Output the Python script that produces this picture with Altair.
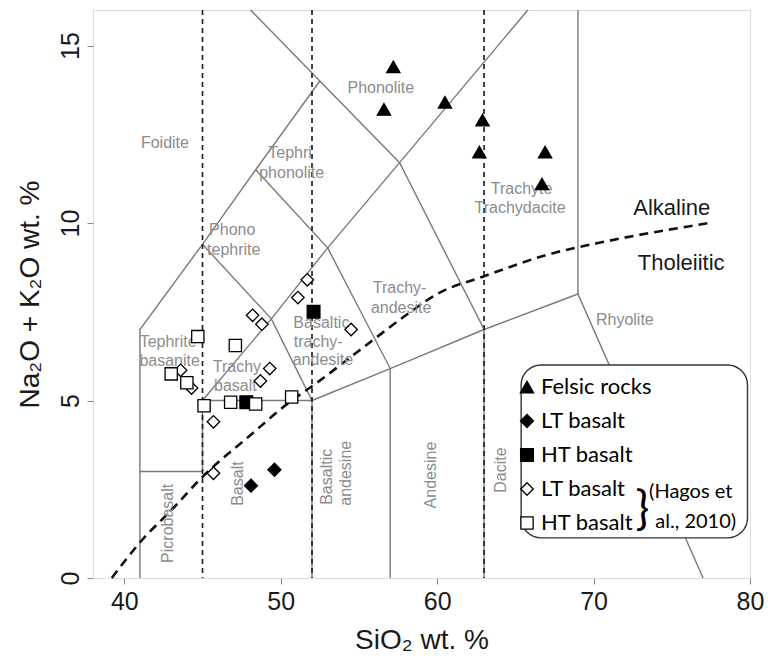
import altair as alt
import pandas as pd

# ---------------------------------------------------------------- data
groups = ["Felsic rocks", "LT basalt", "HT basalt", "LT basalt (Hagos)", "HT basalt (Hagos)"]
group_shapes = ["triangle-up", "diamond", "square", "diamond", "square"]
group_fills = ["black", "black", "black", "white", "white"]
group_strokes = ["black", "black", "black", "black", "black"]
group_sizes = [175, 150, 140, 120, 140]

felsic_sio2 = [57.2, 56.6, 60.5, 62.9, 62.7, 66.9, 66.7]
felsic_alk = [14.4, 13.2, 13.4, 12.9, 12.0, 12.0, 11.1]

lt_sio2 = [49.6, 48.1]
lt_alk = [3.05, 2.6]

ht_sio2 = [52.1, 47.8]
ht_alk = [7.5, 4.95]

hagos_lt_sio2 = [51.1, 51.7, 48.2, 48.8, 54.5, 49.3, 48.7, 43.6, 44.3, 45.7, 45.7]
hagos_lt_alk = [7.9, 8.4, 7.4, 7.15, 7.0, 5.9, 5.55, 5.85, 5.35, 4.4, 2.95]

hagos_ht_sio2 = [44.7, 47.1, 43.0, 44.0, 45.1, 46.8, 48.4, 50.7]
hagos_ht_alk = [6.8, 6.55, 5.75, 5.5, 4.85, 4.95, 4.9, 5.1]

# TAS field boundaries (Le Bas et al., 1986), as polylines of (SiO2, Na2O+K2O)
boundaries = [
    [(41, 0), (41, 7), (45, 9.4), (48.4, 11.5), (52.5, 14)],
    [(41, 3), (45, 3)],
    [(45, 3), (45, 5), (52, 5)],
    [(45, 5), (49.4, 7.3), (53, 9.3), (57.6, 11.7), (65.8, 16)],
    [(45, 9.4), (49.4, 7.3), (52, 5), (57, 5.9), (63, 7), (69, 8), (77, 0)],
    [(48.4, 11.5), (53, 9.3), (57, 5.9), (57, 0)],
    [(48.07, 16), (52.5, 14), (57.6, 11.7), (63, 7), (63, 0)],
    [(52, 5), (52, 0)],
    [(69, 8), (69, 16)],
]

# dashed SiO2 divisions
dashed_sio2 = [45, 52, 63]

# alkaline / tholeiitic divide
divide_sio2 = [39.2, 41.0, 43.2, 45.0, 48.0, 50.7, 52.0, 55.0, 58.0, 60.0, 63.0, 67.0, 71.0, 77.4]
divide_alk = [0.0, 1.0, 2.0, 2.85, 4.0, 5.0, 5.4, 6.4, 7.4, 8.0, 8.5, 9.1, 9.5, 10.0]

# field names
field_text = ["Foidite", "Phonolite", "Tephri", "phonolite", "Phono", "tephrite",
              "Trachyte", "Trachydacite", "Trachy-", "andesite", "Basaltic", "trachy-",
              "andesite", "Tephrite", "basanite", "Trachy", "basalt", "Rhyolite"]
field_x = [42.6, 56.4, 50.6, 50.7, 46.9, 47.0, 65.4, 65.3, 57.6, 57.7, 52.6, 52.4,
           52.7, 42.8, 42.9, 47.2, 47.1, 72.0]
field_y = [12.24, 13.81, 11.98, 11.42, 9.79, 9.23, 10.97, 10.41, 8.16, 7.6, 7.18, 6.65,
           6.13, 6.65, 6.11, 5.93, 5.4, 7.26]

vfield_text = ["Picrobasalt", "Basalt", "Basaltic", "andesine", "Andesine", "Dacite"]
vfield_x = [42.77, 47.3, 52.94, 54.2, 59.6, 64.1]
vfield_y = [1.54, 2.66, 2.85, 2.95, 2.9, 3.04]

series_text = ["Alkaline", "Tholeiitic"]
series_x = [75.0, 75.6]
series_y = [10.41, 8.86]

# legend box and citation
box_x, box_x2, box_y, box_y2 = 65.37, 79.84, 1.13, 6.0
brace_x, brace_y = 73.12, 1.91
cite_text = ["(Hagos et", "al., 2010)"]
cite_x = [73.55, 73.95]
cite_y = [2.42, 1.58]

# ---------------------------------------------------------------- tables
rows = []
for g, xs, ys in [
    (groups[0], felsic_sio2, felsic_alk),
    (groups[1], lt_sio2, lt_alk),
    (groups[2], ht_sio2, ht_alk),
    (groups[3], hagos_lt_sio2, hagos_lt_alk),
    (groups[4], hagos_ht_sio2, hagos_ht_alk),
]:
    rows += [{"group": g, "sio2": x, "alk": y} for x, y in zip(xs, ys)]
points_df = pd.DataFrame(rows)

bound_rows = []
for i, line in enumerate(boundaries):
    for j, (x, y) in enumerate(line):
        bound_rows.append({"seg": i, "ord": j, "sio2": x, "alk": y})
bound_df = pd.DataFrame(bound_rows)

dashed_df = pd.DataFrame({"sio2": dashed_sio2})
divide_df = pd.DataFrame({"sio2": divide_sio2, "alk": divide_alk, "ord": range(len(divide_sio2))})
field_df = pd.DataFrame({"text": field_text, "sio2": field_x, "alk": field_y})
vfield_df = pd.DataFrame({"text": vfield_text, "sio2": vfield_x, "alk": vfield_y})
series_df = pd.DataFrame({"text": series_text, "sio2": series_x, "alk": series_y})
box_df = pd.DataFrame({"x": [box_x], "x2": [box_x2], "y": [box_y], "y2": [box_y2]})
brace_df = pd.DataFrame({"text": ["}"], "sio2": [brace_x], "alk": [brace_y]})
cite_df = pd.DataFrame({"text": cite_text, "sio2": cite_x, "alk": cite_y})

# ---------------------------------------------------------------- scales
AX = "Liberation Sans"
xscale = alt.Scale(domain=[38, 80], nice=False, zero=False)
yscale = alt.Scale(domain=[0, 16], nice=False, zero=False)

x_axis = alt.Axis(values=[40, 50, 60, 70, 80], grid=False, domain=False, tickSize=6,
                  tickColor="#888888", labelFont=AX, labelFontSize=25, labelColor="#1a1a1a",
                  labelPadding=5, labelFlush=False, title="SiO₂ wt. %", titleFont=AX,
                  titleFontSize=28, titleFontWeight="normal", titleColor="#1a1a1a",
                  titlePadding=12)
y_axis = alt.Axis(values=[0, 5, 10, 15], grid=False, domain=False, tickSize=6,
                  tickColor="#888888", labelFont=AX, labelFontSize=25, labelColor="#1a1a1a",
                  labelAngle=270, labelAlign="center", labelBaseline="bottom",
                  labelPadding=4, title="Na₂O + K₂O wt. %", titleFont=AX, titleFontSize=28,
                  titleFontWeight="normal", titleColor="#1a1a1a", titlePadding=14)

X = alt.X("sio2:Q", scale=xscale, axis=x_axis)
Y = alt.Y("alk:Q", scale=yscale, axis=y_axis)
Xp = alt.X("sio2:Q", scale=xscale)
Yp = alt.Y("alk:Q", scale=yscale)

# ---------------------------------------------------------------- layers
fields = alt.Chart(bound_df).mark_line(color="#7a7a7a", strokeWidth=1.4).encode(
    x=X, y=Y, detail="seg:N", order="ord:Q")

dashes = alt.Chart(dashed_df).mark_rule(color="#222222", strokeWidth=1.7,
                                         strokeDash=[5, 4]).encode(x=Xp)

divide = alt.Chart(divide_df).mark_line(color="#111111", strokeWidth=2.6, strokeDash=[9, 6],
                                        interpolate="monotone").encode(x=Xp, y=Yp, order="ord:Q")

labels = alt.Chart(field_df).mark_text(font=AX, fontSize=16, color="#8c8c8c").encode(
    x=Xp, y=Yp, text="text:N")

vlabels = alt.Chart(vfield_df).mark_text(font=AX, fontSize=16, color="#8c8c8c",
                                         angle=270).encode(x=Xp, y=Yp, text="text:N")

series = alt.Chart(series_df).mark_text(font=AX, fontSize=22, color="#1a1a1a").encode(
    x=Xp, y=Yp, text="text:N")

box = alt.Chart(box_df).mark_rect(cornerRadius=20, fill="white", stroke="#333333",
                                  strokeWidth=1.4).encode(
    x=alt.X("x:Q", scale=xscale), x2="x2:Q", y=alt.Y("y:Q", scale=yscale), y2="y2:Q")

brace = alt.Chart(brace_df).mark_text(font="Lato", fontSize=46, color="black",
                                      baseline="middle").encode(x=Xp, y=Yp, text="text:N")

cite = alt.Chart(cite_df).mark_text(font="Lato", fontSize=20, color="black", align="left",
                                    baseline="middle").encode(x=Xp, y=Yp, text="text:N")

legend = alt.Legend(orient="none", legendX=423, legendY=366, title=None, padding=0,
                    labelFont="Lato", labelFontSize=22, labelColor="black", rowPadding=12,
                    labelOffset=3, symbolStrokeWidth=1.3, labelLimit=200,
                    labelExpr="replace(datum.label, ' (Hagos)', '')")

points = alt.Chart(points_df).mark_point(filled=False, strokeWidth=1.3, opacity=1).encode(
    x=Xp, y=Yp,
    shape=alt.Shape("group:N", scale=alt.Scale(domain=groups, range=group_shapes), legend=legend),
    fill=alt.Fill("group:N", scale=alt.Scale(domain=groups, range=group_fills), legend=legend),
    stroke=alt.Stroke("group:N", scale=alt.Scale(domain=groups, range=group_strokes), legend=legend),
    size=alt.Size("group:N", scale=alt.Scale(domain=groups, range=group_sizes), legend=legend),
)

chart = alt.layer(fields, dashes, divide, labels, vlabels, series, box, brace, cite, points).properties(
    width=657, height=568,
    autosize=alt.AutoSizeParams(type="none"),
    padding={"left": 93, "top": 10, "right": 18, "bottom": 87},
).configure_view(stroke="#111111", strokeWidth=2.5).configure(background="white")

chart.save("out.html", embed_options={"renderer": "svg", "actions": False})
